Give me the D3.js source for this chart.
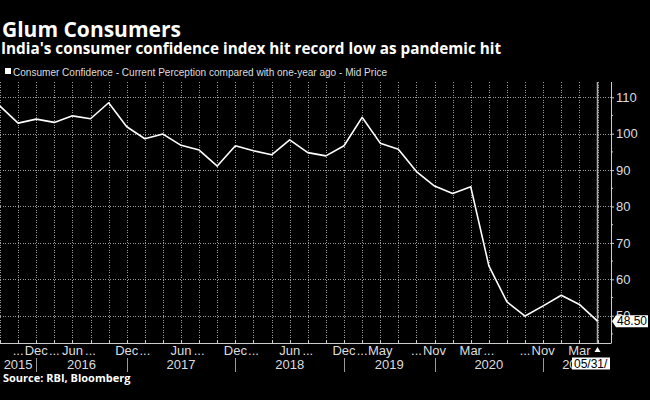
<!DOCTYPE html>
<html>

<head>
    <meta charset="UTF-8">
    <title>Glum Consumers</title>
    <style>
        body { margin: 0; background: #000; }
        svg { display: block; }
    </style>
</head>

<body>
    <script src="https://cdn.jsdelivr.net/npm/d3@7"></script>

    <svg id="chart" width="650" height="400"></svg>

    <script>
        // values, one per survey round
        const values = [107.6, 102.9, 104.0, 103.1, 104.9, 104.1, 108.5, 101.9, 98.6, 99.9,
            96.8, 95.5, 91.1, 96.7, 95.3, 94.2, 98.3, 94.8, 93.9, 96.7,
            104.5, 97.4, 95.7, 89.6, 85.6, 83.6, 85.4, 63.7, 53.8, 49.9,
            52.7, 55.6, 53.1, 48.5];

        // month label under each point ("..." = skipped labels)
        const monthLabels = ["", "...", "Dec", "...", "Jun", "...", "", "Dec", "...", "",
            "Jun", "...", "", "Dec", "...", "", "Jun", "...", "", "Dec",
            "...", "May", "", "...", "Nov", "", "Mar", "...", "", "...",
            "Nov", "", "Mar", ""];

        const years = ["2015", "2016", "2017", "2018", "2019", "2020", "2021"];
        const yearBreaks = [2, 7, 13, 19, 24, 30]; // last point of each year

        const yTicks = [50, 60, 70, 80, 90, 100, 110];
        const yMinorTicks = [45, 55, 65, 75, 85, 95, 105];

        const title = "Glum Consumers";
        const subtitle = "India's consumer confidence index hit record low as pandemic hit";
        const legendText = "Consumer Confidence - Current Perception compared with one-year ago - Mid Price";
        const source = "Source: RBI, Bloomberg";
        const lastDate = "05/31/";

        const svg = d3.select("#chart");
        const W = 650, H = 400;
        const plotTop = 82, plotBottom = 343, axisX = 611;
        const narrow = "'Liberation Sans', Arial, sans-serif";

        svg.append("rect").attr("width", W).attr("height", H).attr("fill", "#000");

        const x = d3.scaleLinear().domain([0, values.length - 1]).range([0, 597.5]);
        const y = d3.scaleLinear().domain([42.5, 114.2]).range([plotBottom, plotTop]);

        // titles
        svg.append("text").attr("x", 2).attr("y", 36.5)
            .attr("fill", "#fff").attr("font-family", "'Open Sans', sans-serif")
            .attr("font-weight", "bold").attr("font-size", 21).text(title);
        svg.append("text").attr("x", 1).attr("y", 54)
            .attr("fill", "#fff").attr("font-family", "'Open Sans', sans-serif")
            .attr("font-weight", "bold").attr("font-size", 15.3).text(subtitle);

        // legend
        svg.append("rect").attr("x", 5).attr("y", 68).attr("width", 6).attr("height", 6).attr("fill", "#fff");
        svg.append("text").attr("x", 13).attr("y", 75.5)
            .attr("fill", "#ddd").attr("font-family", narrow)
            .attr("font-size", 11.5)
            .attr("textLength", 374).attr("lengthAdjust", "spacingAndGlyphs")
            .text(legendText);

        // grid (dotted)
        const grid = svg.append("g").attr("stroke", "#9a9a9a").attr("stroke-width", 1)
            .attr("stroke-dasharray", "1,1.5").attr("shape-rendering", "crispEdges");
        grid.selectAll("line.v").data(values).join("line").attr("class", "v")
            .attr("x1", (d, i) => Math.round(x(i)) + 0.5).attr("x2", (d, i) => Math.round(x(i)) + 0.5)
            .attr("y1", plotTop).attr("y2", plotBottom);
        grid.selectAll("line.h").data(yTicks).join("line").attr("class", "h")
            .attr("x1", 0).attr("x2", axisX)
            .attr("y1", d => Math.round(y(d)) + 0.5).attr("y2", d => Math.round(y(d)) + 0.5);

        // current-date line
        svg.append("line").attr("x1", x(values.length - 1)).attr("x2", x(values.length - 1))
            .attr("y1", plotTop).attr("y2", plotBottom)
            .attr("stroke", "#aaa").attr("stroke-width", 1.5);

        // right axis
        const yAxis = d3.axisRight(y).tickValues(yTicks).tickSize(3).tickPadding(2);
        const ya = svg.append("g").attr("transform", `translate(${axisX},0)`).call(yAxis);
        ya.select(".domain").remove();
        ya.selectAll(".tick line").attr("stroke", "#ccc");
        ya.selectAll(".tick text").attr("fill", "#ddd").attr("font-family", narrow).attr("font-size", 13);
        svg.append("g").selectAll("line").data(yMinorTicks).join("line")
            .attr("x1", axisX).attr("x2", axisX + 2)
            .attr("y1", d => y(d)).attr("y2", d => y(d)).attr("stroke", "#ccc");
        svg.append("line").attr("x1", axisX + 0.5).attr("x2", axisX + 0.5)
            .attr("y1", plotTop).attr("y2", plotBottom).attr("stroke", "#ccc");

        // bottom axis
        svg.append("line").attr("x1", 0).attr("x2", axisX + 0.5)
            .attr("y1", plotBottom + 0.5).attr("y2", plotBottom + 0.5).attr("stroke", "#ccc");
        svg.append("g").selectAll("line").data(values).join("line")
            .attr("x1", (d, i) => Math.round(x(i)) + 0.5).attr("x2", (d, i) => Math.round(x(i)) + 0.5)
            .attr("y1", plotBottom - 3).attr("y2", plotBottom).attr("stroke", "#ccc");

        svg.append("g").selectAll("text").data(monthLabels).join("text")
            .attr("x", (d, i) => x(i)).attr("y", 355)
            .attr("text-anchor", "middle").attr("fill", "#ddd")
            .attr("font-family", narrow).attr("font-size", 13)
            .text(d => d);

        // year separators and labels
        svg.append("g").selectAll("line").data(yearBreaks).join("line")
            .attr("x1", d => Math.round(x(d)) + 0.5).attr("x2", d => Math.round(x(d)) + 0.5)
            .attr("y1", 358).attr("y2", 372).attr("stroke", "#999");
        const edges = [0, ...yearBreaks.map(d => x(d)), axisX - 21];
        svg.append("g").selectAll("text").data(years).join("text")
            .attr("x", (d, i) => (edges[i] + edges[i + 1]) / 2 + (i === years.length - 1 ? 10 : 0))
            .attr("y", 369).attr("text-anchor", "middle").attr("fill", "#ddd")
            .attr("font-family", narrow).attr("font-size", 13)
            .text(d => d);

        // line
        const line = d3.line().x((d, i) => x(i)).y(d => y(d));
        svg.append("path").datum(values).attr("d", line)
            .attr("fill", "none").attr("stroke", "#fff").attr("stroke-width", 1.6)
            .attr("stroke-linejoin", "round");

        // last value tag
        const last = values[values.length - 1];
        const ly = y(last);
        svg.append("path")
            .attr("d", `M${axisX + 1},${ly} L${axisX + 5},${ly - 6} L${W - 2},${ly - 6} L${W - 2},${ly + 6} L${axisX + 5},${ly + 6} Z`)
            .attr("fill", "#fff");
        svg.append("text").attr("x", axisX + 6).attr("y", ly + 4.3)
            .attr("fill", "#000").attr("font-family", narrow).attr("font-size", 12)
            .text(d3.format(".2f")(last));

        // current date tag
        const lx = x(values.length - 1);
        svg.append("path").attr("d", `M${lx - 3},352 L${lx},347 L${lx + 3},352 Z`).attr("fill", "#fff");
        svg.append("rect").attr("x", 572).attr("y", 357.5).attr("width", 38).attr("height", 12).attr("fill", "#fff");
        svg.append("text").attr("x", 574).attr("y", 368).attr("fill", "#000")
            .attr("font-family", narrow).attr("font-size", 12).text(lastDate);

        // source
        svg.append("text").attr("x", 3).attr("y", 382)
            .attr("fill", "#fff").attr("font-family", "'Open Sans', sans-serif")
            .attr("font-weight", "bold").attr("font-size", 11).text(source);
    </script>

</body>

</html>
